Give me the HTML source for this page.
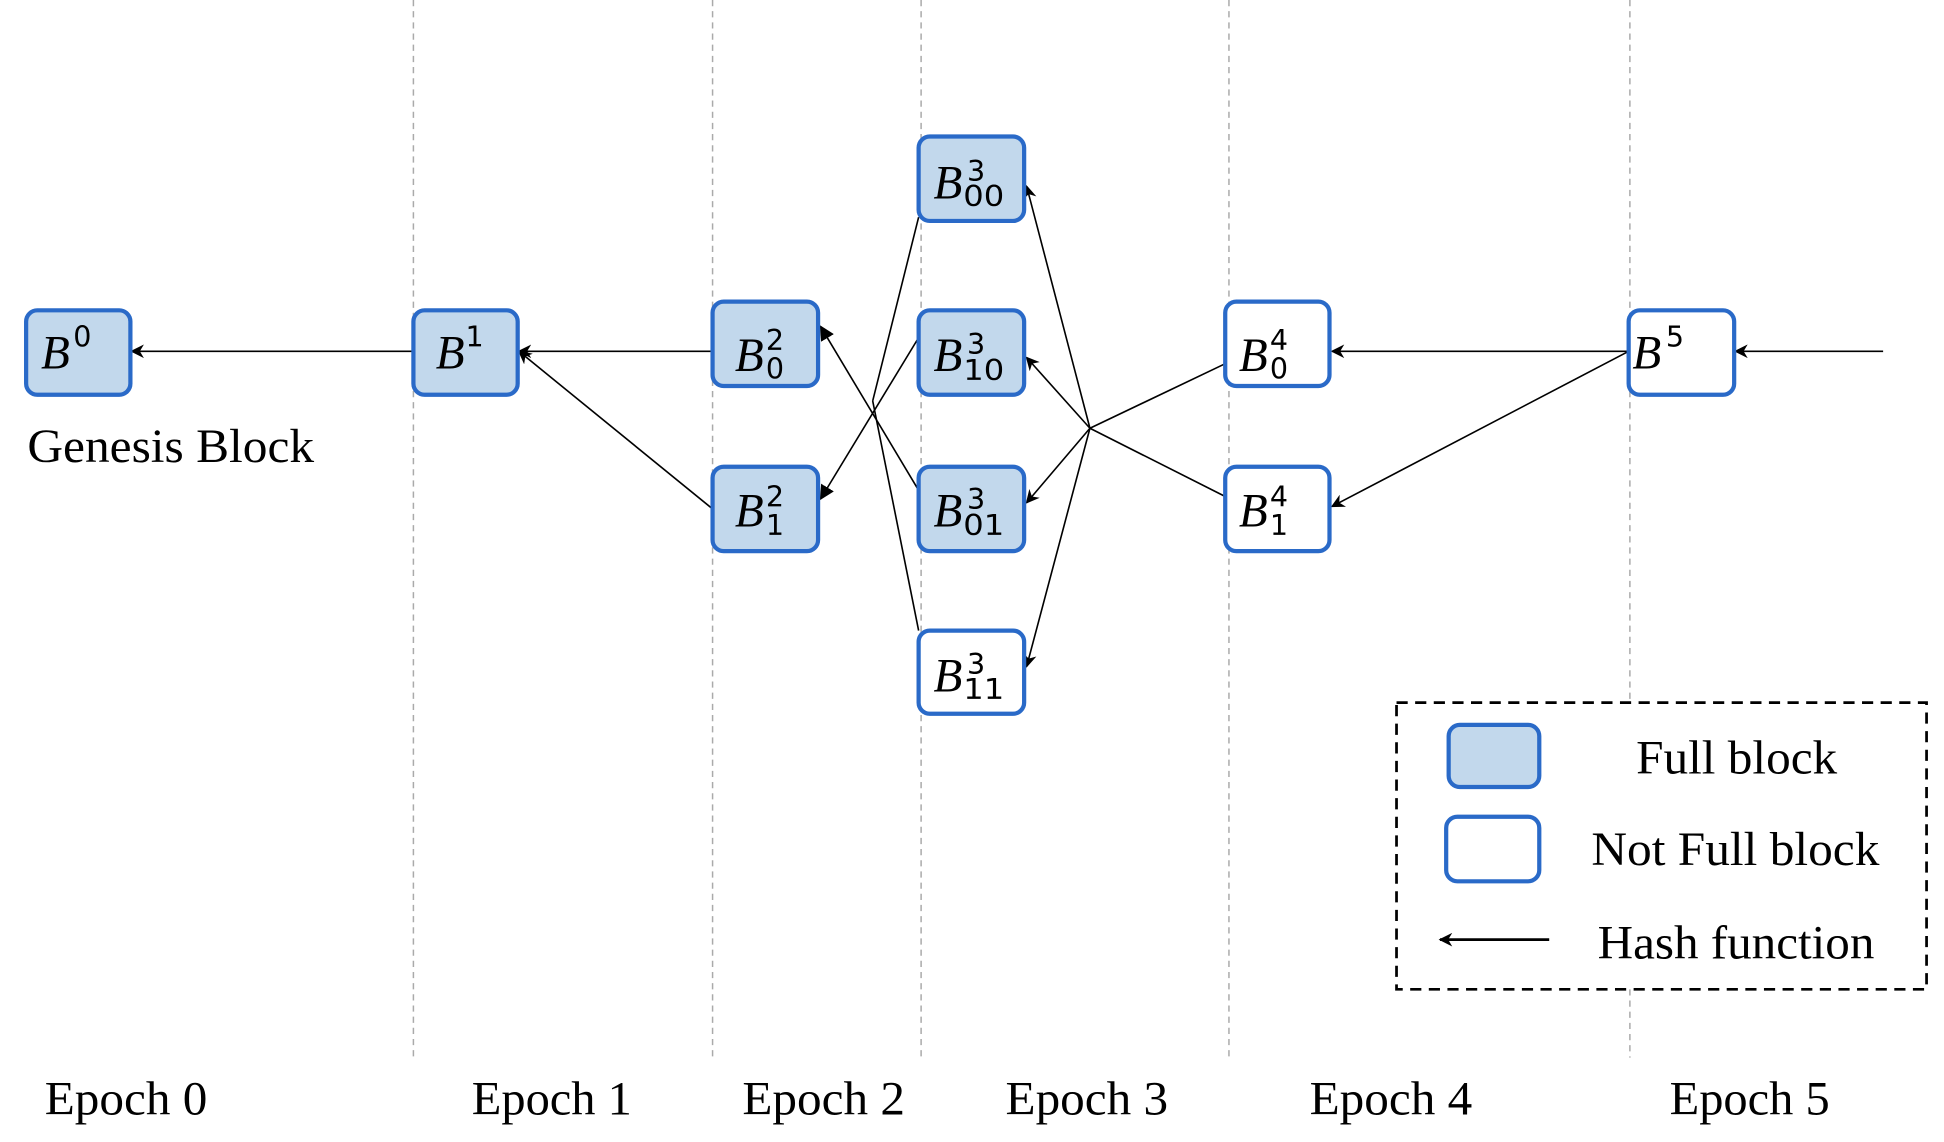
<!DOCTYPE html>
<html><head><meta charset="utf-8"><style>html,body{margin:0;padding:0;background:#fff}svg{display:block}</style></head>
<body>
<svg width="1944" height="1142" viewBox="0 0 1566 920" xmlns="http://www.w3.org/2000/svg">
<defs>
<marker id="a" viewBox="0 0 10 10" refX="9" refY="5" markerWidth="11" markerHeight="11" orient="auto" markerUnits="userSpaceOnUse"><path d="M0,0 L10,5 L0,10 L3,5 z" fill="#000"/></marker>
<marker id="t" viewBox="0 0 10 10" refX="9" refY="5" markerWidth="12" markerHeight="12" orient="auto" markerUnits="userSpaceOnUse"><path d="M0,0 L10,5 L0,10 z" fill="#000"/></marker>
</defs>
<g stroke="#aaa" stroke-width="1.2" stroke-dasharray="5,4">
<line x1="333" y1="0" x2="333" y2="852"/><line x1="574" y1="0" x2="574" y2="852"/><line x1="742" y1="0" x2="742" y2="852"/><line x1="990" y1="0" x2="990" y2="852"/><line x1="1313" y1="0" x2="1313" y2="566"/><line x1="1313" y1="797" x2="1313" y2="852"/>
</g>
<g stroke="#000" stroke-width="1.3" fill="none">
<line x1="333" y1="283" x2="106" y2="283" marker-end="url(#a)"/>
<line x1="574" y1="283" x2="418" y2="283" marker-end="url(#a)"/>
<line x1="574" y1="410" x2="418" y2="283" marker-end="url(#a)"/>
<polyline points="740,175 703,323"/>
<polyline points="740,508 703,323"/>
<line x1="740" y1="272" x2="661" y2="402" marker-end="url(#t)"/>
<line x1="740" y1="395" x2="661" y2="263" marker-end="url(#t)"/>
<line x1="987" y1="293" x2="878" y2="345"/>
<line x1="987" y1="400" x2="878" y2="345"/>
<line x1="878" y1="345" x2="827" y2="150" marker-end="url(#a)"/>
<line x1="878" y1="345" x2="827" y2="288" marker-end="url(#a)"/>
<line x1="878" y1="345" x2="827" y2="405" marker-end="url(#a)"/>
<line x1="878" y1="345" x2="827" y2="537" marker-end="url(#a)"/>
<line x1="1312" y1="283" x2="1073" y2="283" marker-end="url(#a)"/>
<line x1="1312" y1="283" x2="1073" y2="408" marker-end="url(#a)"/>
<line x1="1517" y1="283" x2="1398" y2="283" marker-end="url(#a)"/>
</g>
<g stroke="#2a6ac8" stroke-width="3.4">
<rect x="21" y="250" width="84" height="68" rx="9" fill="#c2d8ec"/>
<rect x="333" y="250" width="84" height="68" rx="9" fill="#c2d8ec"/>
<rect x="574" y="243" width="85" height="68" rx="9" fill="#c2d8ec"/>
<rect x="574" y="376" width="85" height="68" rx="9" fill="#c2d8ec"/>
<rect x="740" y="110" width="85" height="68" rx="9" fill="#c2d8ec"/>
<rect x="740" y="250" width="85" height="68" rx="9" fill="#c2d8ec"/>
<rect x="740" y="376" width="85" height="68" rx="9" fill="#c2d8ec"/>
<rect x="740" y="508" width="85" height="67" rx="9" fill="#fff"/>
<rect x="987" y="243" width="84" height="68" rx="9" fill="#fff"/>
<rect x="987" y="376" width="84" height="68" rx="9" fill="#fff"/>
<rect x="1312" y="250" width="85" height="68" rx="9" fill="#fff"/>
<rect x="1167" y="584" width="73" height="50" rx="9" fill="#c2d8ec"/>
<rect x="1165" y="658" width="75" height="52" rx="9" fill="#fff"/>
</g>
<g font-family="Liberation Serif, serif" font-style="italic" font-size="38" fill="#000">
<text x="33" y="297">B</text><text x="351" y="297">B</text>
<text x="592" y="299">B</text><text x="592" y="424">B</text>
<text x="752" y="160">B</text><text x="752" y="299">B</text><text x="752" y="424">B</text><text x="752" y="557">B</text>
<text x="998" y="299">B</text><text x="998" y="424">B</text><text x="1315" y="297">B</text>
</g>
<g font-family="DejaVu Sans, sans-serif" font-size="23" fill="#000">
<text x="59" y="279">0</text><text x="375" y="279">1</text>
<text x="617" y="282">2</text><text x="617" y="305">0</text>
<text x="617" y="408">2</text><text x="617" y="431">1</text>
<text x="779" y="146">3</text><text x="776" y="166" textLength="33" lengthAdjust="spacingAndGlyphs">00</text>
<text x="779" y="285">3</text><text x="776" y="306" textLength="33" lengthAdjust="spacingAndGlyphs">10</text>
<text x="779" y="410">3</text><text x="776" y="431" textLength="33" lengthAdjust="spacingAndGlyphs">01</text>
<text x="779" y="543">3</text><text x="776" y="563" textLength="33" lengthAdjust="spacingAndGlyphs">11</text>
<text x="1023" y="282">4</text><text x="1023" y="305">0</text>
<text x="1023" y="408">4</text><text x="1023" y="431">1</text>
<text x="1342" y="279">5</text>
</g>
<rect x="1125" y="566" width="427" height="231" fill="none" stroke="#000" stroke-width="2.2" stroke-dasharray="9,6"/>
<line x1="1248" y1="757" x2="1160" y2="757" stroke="#000" stroke-width="2.2" marker-end="url(#a)"/>
<g font-family="Liberation Serif, serif" font-size="38" fill="#000" lengthAdjust="spacingAndGlyphs">
<text x="22" y="372" textLength="231" lengthAdjust="spacingAndGlyphs">Genesis Block</text>
<text x="1318" y="623" textLength="162" lengthAdjust="spacingAndGlyphs">Full block</text>
<text x="1282" y="697" textLength="232" lengthAdjust="spacingAndGlyphs">Not Full block</text>
<text x="1287" y="772" textLength="223" lengthAdjust="spacingAndGlyphs">Hash function</text>
<text x="36" y="898" textLength="131" lengthAdjust="spacingAndGlyphs">Epoch 0</text>
<text x="380" y="898" textLength="129" lengthAdjust="spacingAndGlyphs">Epoch 1</text>
<text x="598" y="898" textLength="131" lengthAdjust="spacingAndGlyphs">Epoch 2</text>
<text x="810" y="898" textLength="131" lengthAdjust="spacingAndGlyphs">Epoch 3</text>
<text x="1055" y="898" textLength="131" lengthAdjust="spacingAndGlyphs">Epoch 4</text>
<text x="1345" y="898" textLength="129" lengthAdjust="spacingAndGlyphs">Epoch 5</text>
</g>
</svg>
</body></html>
